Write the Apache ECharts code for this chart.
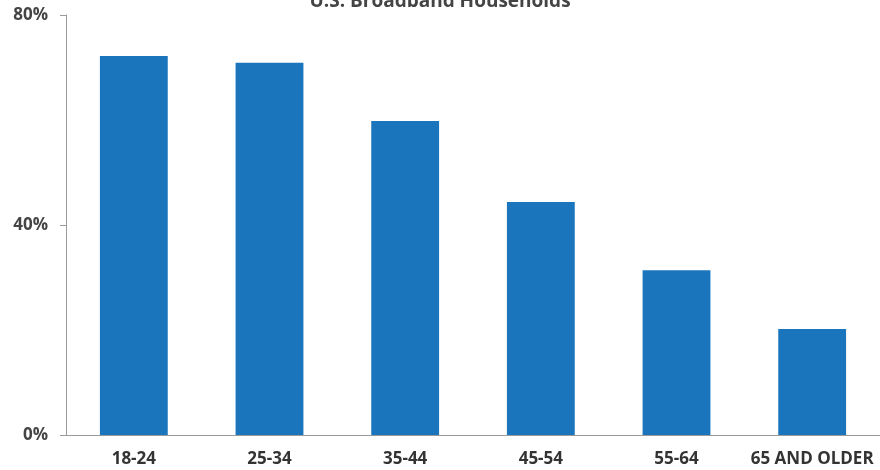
<!DOCTYPE html>
<html><head><meta charset="utf-8">
<script src="https://cdn.jsdelivr.net/npm/echarts@6/dist/echarts.min.js"></script>
<style>html,body{margin:0;padding:0;background:#fff}#c{width:880px;height:470px}</style>
</head><body><div id="c"></div>
<script>
const title = "U.S. Broadband Households";
const categories = ["18-24", "25-34", "35-44", "45-54", "55-64", "65 AND OLDER"];
const values = [72.2, 70.9, 59.8, 44.4, 31.4, 20.2];
const yTicks = [0, 40, 80];

const chart = echarts.init(document.getElementById('c'));
chart.setOption({
  animation: false,
  title: {
    text: title, left: 'center', top: -13,
    textStyle: {fontFamily: 'Open Sans', fontWeight: 'bold', fontSize: 19, color: '#444'}
  },
  grid: {left: 66, right: -4, top: 15, bottom: 35},
  xAxis: {
    type: 'category', data: categories,
    axisLine: {lineStyle: {color: '#9a9a9a', width: 1}},
    axisTick: {show: false},
    axisLabel: {interval: 0, fontFamily: 'Open Sans', fontWeight: 'bold', fontSize: 17, color: '#333', margin: 16}
  },
  yAxis: {
    type: 'value', min: 0, max: 80, interval: 40,
    axisLine: {show: true, lineStyle: {color: '#9a9a9a', width: 1}},
    axisTick: {show: true, length: 6, lineStyle: {color: '#9a9a9a'}},
    splitLine: {show: false},
    axisLabel: {fontFamily: 'Open Sans', fontWeight: 'bold', fontSize: 17, color: '#444', margin: 18,
      formatter: v => yTicks.includes(v) ? v + '%' : ''}
  },
  series: [{
    type: 'bar', data: values, barWidth: '50%',
    itemStyle: {color: '#1b75bc'}
  }]
});
</script></body></html>
